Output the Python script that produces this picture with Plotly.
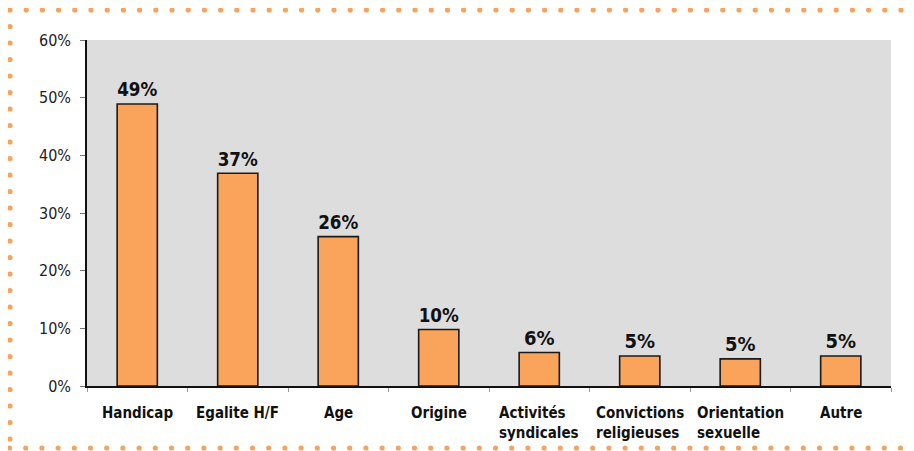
import plotly.graph_objects as go

categories = ["Handicap", "Egalite H/F", "Age", "Origine", "Activités<br>syndicales",
              "Convictions<br>religieuses", "Orientation<br>sexuelle", "Autre"]
values = [48.9, 36.9, 25.9, 9.8, 5.8, 5.2, 4.7, 5.2]
value_labels = ["49%", "37%", "26%", "10%", "6%", "5%", "5%", "5%"]
y_ticks = [0, 10, 20, 30, 40, 50, 60]
y_tick_text = ["0%", "10%", "20%", "30%", "40%", "50%", "60%"]

# the page body has an 8px margin, so the figure is drawn 8px in from the window
OFF = 8
W, H = 914 - OFF, 451 - OFF
ML, MR, MT, MB = 87 - OFF, 23, 40 - OFF, 65
PW, PH = W - ML - MR, H - MT - MB
ORANGE = "#F9A35B"
DOT = "#F9A25C"
FONT = "DejaVu Sans Condensed"

fig = go.Figure(go.Bar(
    x=categories, y=values,
    marker=dict(color=ORANGE, line=dict(color="#1a1a1a", width=1.6)),
    text=value_labels, textposition="outside", cliponaxis=False,
    textfont=dict(family=FONT, size=20, color="#111111", weight="bold"),
    width=0.4,
))

# category labels as annotations so that two-line labels are left-aligned
for cat in categories:
    fig.add_annotation(x=cat, y=0, xref="x", yref="paper", text=cat,
                       showarrow=False, xanchor="center", yanchor="top",
                       align="left", yshift=-16,
                       font=dict(family=FONT, size=15, color="#111111", weight="bold"))


# dotted orange frame (decoration): top, left and bottom
def px2paper(x, y):
    x, y = x - OFF, y - OFF
    return (x - ML) / PW, (H - MB - y) / PH


r = 2.6
dots = []
for i in range(56):
    dots.append((10 + i * 16.2, 10))
    dots.append((9.5 + i * 16.2, 448))
for j in range(1, 27):
    dots.append((10, 10 + j * 16.5))
shapes = []
for (x, y) in dots:
    if x > 910 or (y > 440 and y != 448):
        continue
    x0, y0 = px2paper(x - r, y + r)
    x1, y1 = px2paper(x + r, y - r)
    shapes.append(dict(type="circle", xref="paper", yref="paper",
                       x0=x0, x1=x1, y0=y0, y1=y1,
                       fillcolor=DOT, line=dict(width=0), layer="above"))

fig.update_layout(
    width=W, height=H,
    margin=dict(l=ML, r=MR, t=MT, b=MB),
    plot_bgcolor="#DDDDDD", paper_bgcolor="white",
    showlegend=False,
    shapes=shapes,
    font=dict(family=FONT, color="#111111"),
)
fig.update_yaxes(
    range=[0, 60], tickvals=y_ticks, ticktext=y_tick_text,
    showgrid=False, zeroline=False,
    showline=True, linecolor="#111111", linewidth=1.5,
    ticks="outside", ticklen=5, tickcolor="#777777",
    tickfont=dict(family=FONT, size=16, color="#222222"),
    ticklabelstandoff=6,
)
fig.update_xaxes(
    showgrid=False, showline=True, linecolor="#111111", linewidth=1.5,
    ticks="outside", tickson="boundaries", ticklen=4, tickcolor="#999999",
    showticklabels=False,
)

fig.write_html("out.html")
